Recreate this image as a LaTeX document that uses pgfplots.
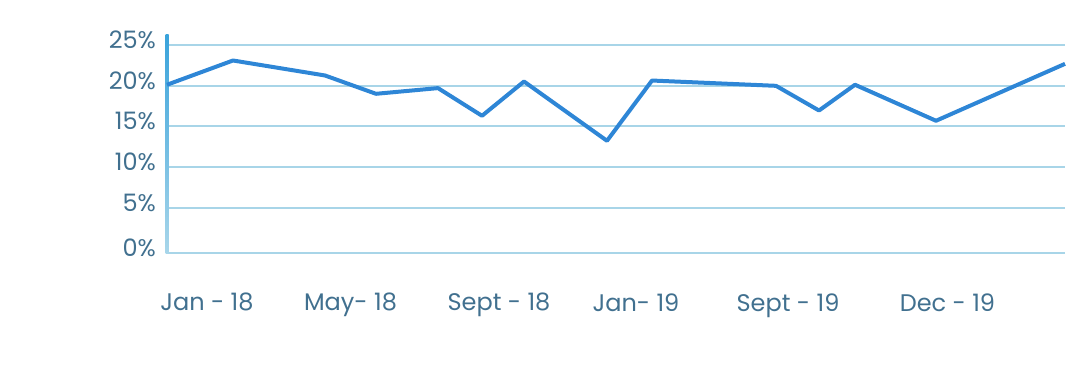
\documentclass[border=0pt]{standalone}
\usepackage{pgfplots}
\pgfplotsset{compat=1.18}
\usepackage{fontspec}
\setmainfont{Poppins}
\definecolor{linec}{HTML}{2E86D6}
\definecolor{gridc}{HTML}{A8D5E8}
\definecolor{axtop}{HTML}{3AA3DB}
\definecolor{axbot}{HTML}{A8D6EA}
\definecolor{txt}{HTML}{41708F}
\begin{document}
\begin{tikzpicture}
\path[use as bounding box] (-83.5pt,-60.35pt) rectangle (456.5pt,126.65pt);
\begin{axis}[
  at={(0,0)}, anchor=south west,
  scale only axis, width=449pt, height=109.15pt,
  xmin=167, xmax=1065, ymin=-0.6, ymax=26.2,
  axis y line*=left, axis x line*=bottom,
  y axis line style={draw=none},
  x axis line style={gridc, line width=1pt, -},
  ytick={-0.6,5,10,15,20,25},
  yticklabels={0\%,5\%,10\%,15\%,20\%,25\%},
  xtick={207,350.5,499,636,788,947.5},
  xticklabels={Jan - 18,May- 18,Sept - 18,Jan- 19,Sept - 19,Dec - 19},
  ymajorgrids, major grid style={gridc, line width=1pt},
  tick style={draw=none},
  ticklabel style={font=\fontsize{12}{14}\selectfont, text=txt},
  yticklabel style={xshift=-2pt, yshift=2.5pt},
  xticklabel style={yshift=-16.5pt},
  clip=false,
]
\shade[top color=axtop, bottom color=axbot]
  ([xshift=-0.75pt]rel axis cs:0,0) rectangle ([xshift=0.75pt]rel axis cs:0,1);
\addplot[linec, line width=2pt, line join=round] coordinates {
(167,20.09) (233,23.07) (325,21.23) (376,18.98) (438,19.68) (482,16.28)
(524,20.49) (607,13.21) (652,20.61) (776,19.96) (819,16.93) (855,20.09)
(936,15.67) (1065,22.66)
};
\end{axis}
\end{tikzpicture}
\end{document}
